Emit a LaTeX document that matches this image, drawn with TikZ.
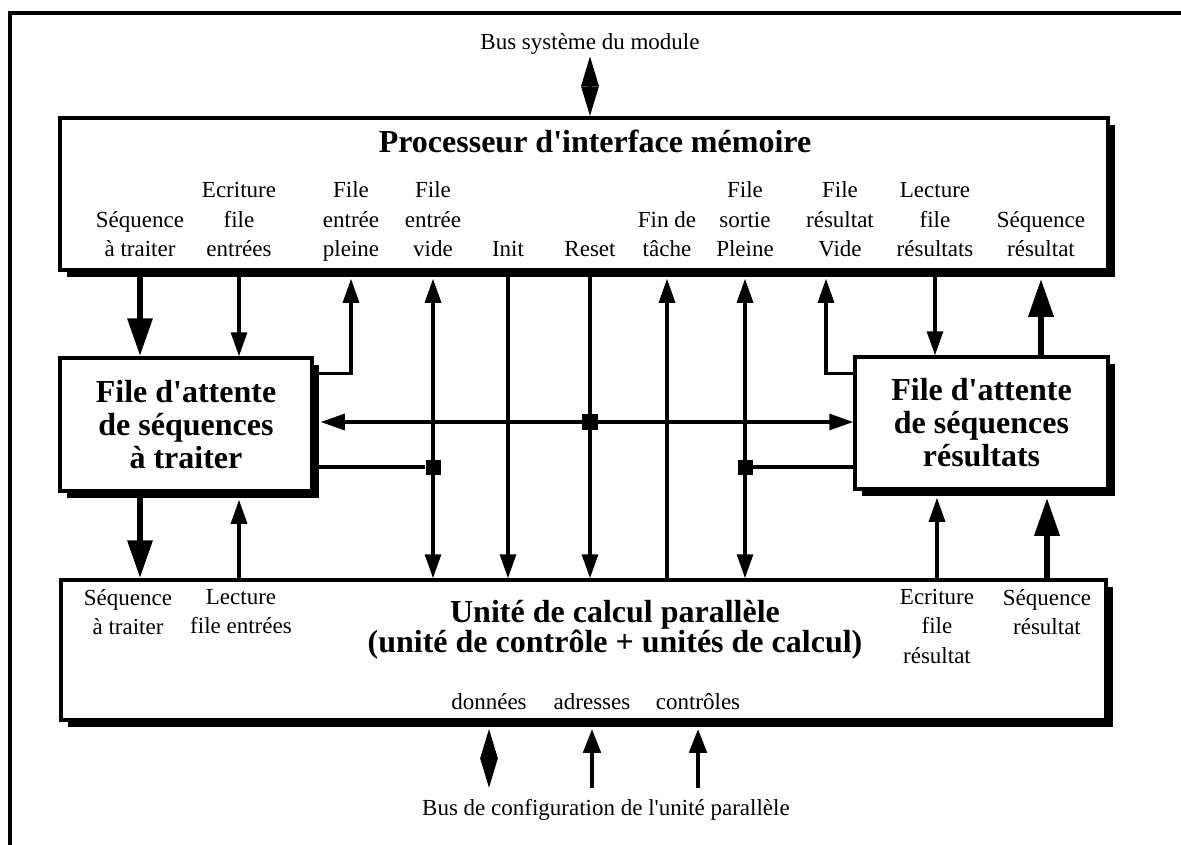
\documentclass[tikz,border=0pt]{standalone}
\usepackage{fontspec}
\setmainfont{Liberation Serif}
\usetikzlibrary{arrows.meta, positioning, shadows}
\tikzstyle{unit} = [rectangle, draw=black, line width=3.5pt, fill=white, inner sep=0pt, drop shadow={shadow xshift=7pt, shadow yshift=-7pt, fill=black, opacity=1}]
\tikzstyle{boxtitle} = [font=\fontsize{32}{33}\selectfont\bfseries, align=center]
\tikzstyle{sig} = [font=\fontsize{23}{29.5}\selectfont, align=center, inner sep=0pt]
\tikzstyle{sigtop} = [sig, anchor=south, execute at end node=\strut]
\tikzstyle{sigbot} = [sig, anchor=north, execute at begin node=\strut]
\tikzstyle{wire} = [line width=3.2pt]
\tikzstyle{arrow} = [wire, -{Triangle[length=24pt,width=16pt]}]
\tikzstyle{dblarrow} = [wire, {Triangle[length=24pt,width=16pt]}-{Triangle[length=24pt,width=16pt]}]
\tikzstyle{thickarrow} = [line width=6.5pt, -{Triangle[length=38pt,width=24pt]}]
\tikzstyle{medarrow} = [line width=4.5pt, -{Triangle[length=24pt,width=17pt]}]
\tikzstyle{bus} = [wire, {Triangle[length=30pt,width=17pt]}-{Triangle[length=30pt,width=17pt]}]
\tikzstyle{junction} = [rectangle, fill=black, minimum size=15pt, inner sep=0pt]
\tikzstyle{shadowed} = [shorten >=7pt]
\newcommand{\q}{\textquotesingle}
\begin{document}
\begin{tikzpicture}[x=1pt, y=-1pt]
        \useasboundingbox (0,0) rectangle (1181,844);
        \clip (0,0) rectangle (1181,844);
        \draw [line width=3.5pt] (10,900) -- (10,13) -- (1300,13);

        % boxes
        \node (top) [unit, minimum width=1048pt, minimum height=152pt] at (584,194) {};
        \node (qin) [unit, boxtitle, minimum width=252pt, minimum height=133pt] at (186,424.5) {File d\q attente\\de séquences\\à traiter};
        \node (qout) [unit, boxtitle, minimum width=253pt, minimum height=132pt] at (981.5,423) {File d\q attente\\de séquences\\résultats};
        \node (upc) [unit, minimum width=1045pt, minimum height=140pt] at (583.5,650) {};
        \node (toptitle) [boxtitle, anchor=base] at (595,152) {Processeur d\q interface mémoire};
        \node (upctitle) [boxtitle, font=\fontsize{32}{28}\selectfont\bfseries, inner sep=0pt, anchor=north, execute at begin node=\strut] at (615,600) {Unité de calcul parallèle\\(unité de contrôle + unités de calcul)};

        % signals of the interface processor
        \node (seqTl) [sigtop] at (140,266) {Séquence\\à traiter};
        \node (ecrTl) [sigtop] at (239,266) {Ecriture\\file\\entrées};
        \node (pleinTl) [sigtop] at (351,266) {File\\entrée\\pleine};
        \node (videTl) [sigtop] at (433,266) {File\\entrée\\vide};
        \node (initTl) [sigtop] at (508,266) {Init};
        \node (resetTl) [sigtop] at (590,266) {Reset};
        \node (finTl) [sigtop] at (667,266) {Fin de\\tâche};
        \node (sortTl) [sigtop] at (745,266) {File\\sortie\\Pleine};
        \node (vresTl) [sigtop] at (840,266) {File\\résultat\\Vide};
        \node (lectTl) [sigtop] at (935,266) {Lecture\\file\\résultats};
        \node (sresTl) [sigtop] at (1041,266) {Séquence\\résultat};
        \coordinate (vresX) at (826,375);

        % signals of the parallel unit
        \node (seqBl) [sigbot] at (128,589) {Séquence\\à traiter};
        \node (lectBl) [sigbot] at (241,589) {Lecture\\file entrées};
        \node (ecrBl) [sigbot] at (937,589) {Ecriture\\file\\résultat};
        \node (sresBl) [sigbot] at (1047,589) {Séquence\\résultat};
        \node (donnees) [sig, anchor=base] at (489,709) {données};
        \node (adresses) [sig, anchor=base] at (592,709) {adresses};
        \node (controles) [sig, anchor=base] at (698,709) {contrôles};

        % buses
        \node (bussys) [sig, inner sep=2pt, anchor=base] at (590,49) {Bus système du module};
        \node (buscfg) [sig, anchor=base west] at (422,815) {Bus de configuration de l\q unité parallèle};
        \coordinate (cfg) at (0,788);

        \node (jbus) [junction, minimum size=16pt] at (590,422) {};
        \node (jin) [junction] at (433,467) {};
        \node (jout) [junction] at (745,467) {};

        \draw [bus] (bussys.south) -- (bussys.south |- top.north);
        \draw [thickarrow] (seqTl |- top.south) -- (seqTl |- qin.north);
        \draw [arrow] (ecrTl |- top.south) -- (ecrTl |- qin.north);
        \draw [arrow, shadowed] ([yshift=-17pt]qin.north east) -| (pleinTl |- top.south);
        \draw [dblarrow, shorten <=7pt] (videTl |- top.south) -- (videTl |- upc.north);
        \draw [arrow] (initTl |- top.south) -- (initTl |- upc.north);
        \draw [arrow] (resetTl |- top.south) -- (resetTl |- upc.north);
        \draw [arrow, shadowed] (finTl |- upc.north) -- (finTl |- top.south);
        \draw [dblarrow, shorten <=7pt] (sortTl |- top.south) -- (sortTl |- upc.north);
        \draw [arrow, shadowed] ([yshift=-18pt]qout.north west) -| (vresX |- top.south);
        \draw [arrow] (lectTl |- top.south) -- (lectTl |- qout.north);
        \draw [thickarrow, shadowed] (sresTl |- qout.north) -- (sresTl |- top.south);

        \draw [dblarrow, shorten <=7pt] (qin.east |- jbus) -- (qout.west |- jbus);
        \draw [wire] (qin.east |- jin) -- (jin);
        \draw [wire] (jout) -- (qout.west |- jout);

        \draw [thickarrow] (seqTl |- qin.south) -- (seqTl |- upc.north);
        \draw [arrow, shadowed] (ecrTl |- upc.north) -- (ecrTl |- qin.south);
        \draw [arrow, shadowed] (ecrBl |- upc.north) -- (ecrBl |- qout.south);
        \draw [thickarrow, shadowed] (sresBl |- upc.north) -- (sresBl |- qout.south);

        \draw [bus, shorten <=7pt] (donnees |- upc.south) -- (donnees |- cfg);
        \draw [medarrow, shadowed] (adresses |- cfg) -- (adresses |- upc.south);
        \draw [medarrow, shadowed] (controles |- cfg) -- (controles |- upc.south);
\end{tikzpicture}
\end{document}
